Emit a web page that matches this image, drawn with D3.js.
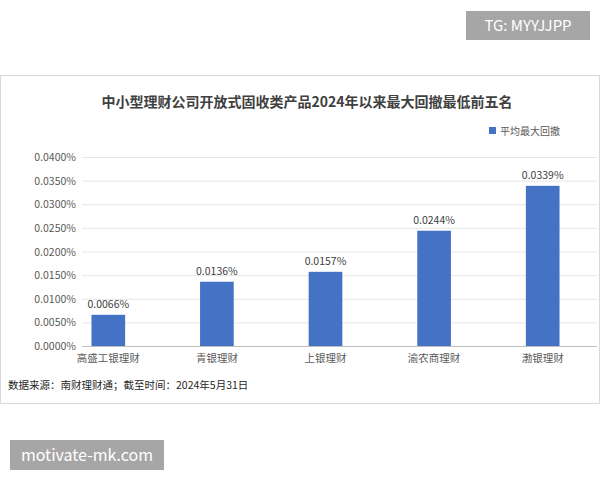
<!DOCTYPE html>
<html><head><meta charset="utf-8">
<script src="https://cdn.jsdelivr.net/npm/d3@7"></script>
<style>body{margin:0;background:#fff;font-family:"Noto Sans CJK SC","Noto Sans",sans-serif}</style>
</head><body><svg id="c" width="600" height="480"></svg>
<script>
const categories=["高盛工银理财","青银理财","上银理财","渝农商理财","渤银理财"];
const values=[0.0066,0.0136,0.0157,0.0244,0.0339]; // in percent
const ticks=[0,0.005,0.01,0.015,0.02,0.025,0.03,0.035,0.04];
const svg=d3.select("#c");
const F="Noto Sans CJK SC";
const fmt=v=>d3.format(".4f")(v)+"%";
svg.append("rect").attr("x",0.5).attr("y",75.5).attr("width",599).attr("height",328).attr("fill","#fff").attr("stroke","#d9d9d9");
svg.append("rect").attr("x",466).attr("y",11).attr("width",124).attr("height",29).attr("fill","#a6a6a6");
svg.append("text").attr("x",528).attr("y",31).attr("text-anchor","middle").attr("fill","#fff").attr("font-size",15).attr("font-family",F).text("TG: MYYJJPP");
svg.append("rect").attr("x",10).attr("y",440).attr("width",154).attr("height",30).attr("fill","#a6a6a6");
svg.append("text").attr("x",87).attr("y",461).attr("text-anchor","middle").attr("fill","#fff").attr("font-size",16).attr("font-family",F).text("motivate-mk.com");
svg.append("text").attr("x",307).attr("y",107).attr("text-anchor","middle").attr("font-weight","bold").attr("font-size",14).attr("fill","#404040").attr("font-family",F).text("中小型理财公司开放式固收类产品2024年以来最大回撤最低前五名");
svg.append("rect").attr("x",489).attr("y",127).attr("width",7).attr("height",7).attr("fill","#4472c4");
svg.append("text").attr("x",500).attr("y",135).attr("font-size",10).attr("fill","#595959").attr("font-family",F).text("平均最大回撤");
const x=d3.scaleBand().domain(categories).range([54,597]).paddingInner(0.69).paddingOuter(0.345);
const y=d3.scaleLinear().domain([0,0.04]).range([346,157]);
const g=svg.append("g");
ticks.forEach(t=>{
 g.append("line").attr("x1",82).attr("x2",597).attr("y1",y(t)+0.5).attr("y2",y(t)+0.5).attr("stroke",t===0?"#bfbfbf":"#e6e6e6");
 g.append("text").attr("x",76).attr("y",y(t)+4).attr("text-anchor","end").attr("font-size",10.5).attr("fill","#595959").attr("font-family",F).text(fmt(t));
});
categories.forEach((c,i)=>{
 const cx=x(c)+x.bandwidth()/2;
 g.append("rect").attr("x",x(c)).attr("y",y(values[i])).attr("width",x.bandwidth()).attr("height",y(0)-y(values[i])).attr("fill","#4472c4");
 g.append("text").attr("x",cx).attr("y",y(values[i])-7).attr("text-anchor","middle").attr("font-size",10.5).attr("fill","#404040").attr("font-family",F).text(fmt(values[i]));
 g.append("text").attr("x",cx).attr("y",362).attr("text-anchor","middle").attr("font-size",10.5).attr("fill","#595959").attr("font-family",F).text(c);
});
svg.append("text").attr("x",8).attr("y",389).attr("font-size",10.5).attr("fill","#262626").attr("font-family",F).text("数据来源：南财理财通；截至时间：2024年5月31日");
</script></body></html>
